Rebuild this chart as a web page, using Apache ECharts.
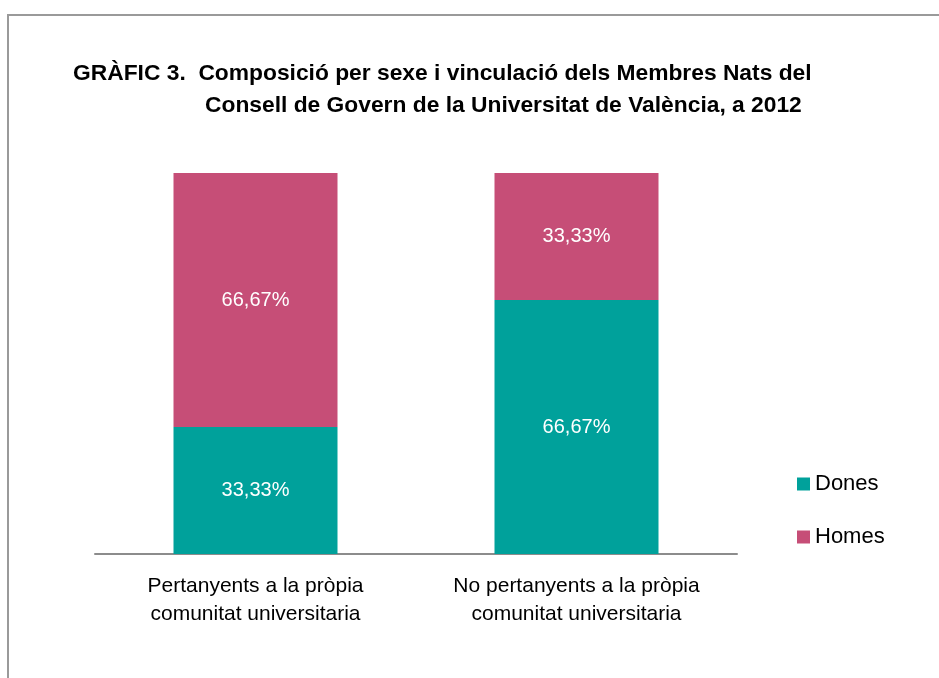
<!DOCTYPE html>
<html><head><meta charset="utf-8">
<script src="https://cdn.jsdelivr.net/npm/echarts@6/dist/echarts.min.js"></script>
<style>
html,body{margin:0;padding:0;background:#fff;}
#frame{position:absolute;left:7px;top:14px;width:960px;height:700px;border-top:2px solid #9a9a9a;border-left:2px solid #9a9a9a;}
#c{position:absolute;left:0;top:0;width:939px;height:678px;}
</style></head>
<body>
<div id="frame"></div>
<div id="c"></div>
<script>
const categories = ['Pertanyents a la pròpia\ncomunitat universitaria', 'No pertanyents a la pròpia\ncomunitat universitaria'];
const dones = [33.33, 66.67];
const homes = [66.67, 33.33];
const seriesNames = ['Dones', 'Homes'];
const titleLine1 = 'GRÀFIC 3.  Composició per sexe i vinculació dels Membres Nats del';
const titleLine2 = 'Consell de Govern de la Universitat de València, a 2012';

const font = '"Liberation Sans Narrow", "Liberation Sans", Arial, sans-serif';
const fmt = p => p.value.toFixed(2).replace('.', ',') + '%';
const chart = echarts.init(document.getElementById('c'));
chart.setOption({
  animation: false,
  backgroundColor: 'transparent',
  title: [
    {text: titleLine1, left: 73, top: 62, padding: 0, textStyle: {fontFamily: font, fontWeight: 'bold', fontSize: 22.8, color: '#000'}},
    {text: titleLine2, left: 205, top: 94, padding: 0, textStyle: {fontFamily: font, fontWeight: 'bold', fontSize: 22.8, color: '#000'}}
  ],
  legend: {
    orient: 'vertical', left: 792, top: 468, itemGap: 31, itemWidth: 13, itemHeight: 13,
    icon: 'rect',
    textStyle: {fontFamily: font, fontSize: 22, color: '#000'},
    data: seriesNames
  },
  grid: {left: 95, right: 202, top: 173, bottom: 124},
  xAxis: {
    type: 'category', data: categories,
    axisLine: {lineStyle: {color: '#8c8c8c', width: 2}},
    axisTick: {show: false},
    axisLabel: {fontFamily: font, fontSize: 21, color: '#000', lineHeight: 28, margin: 18}
  },
  yAxis: {type: 'value', min: 0, max: 100, show: false, splitLine: {show: false}},
  series: [
    {name: 'Dones', type: 'bar', stack: 't', data: dones, barWidth: 164, itemStyle: {color: '#00A19B'},
     label: {show: true, position: 'inside', formatter: fmt, color: '#fff', fontFamily: font, fontSize: 20}},
    {name: 'Homes', type: 'bar', stack: 't', data: homes, barWidth: 164, itemStyle: {color: '#C64E77'},
     label: {show: true, position: 'inside', formatter: fmt, color: '#fff', fontFamily: font, fontSize: 20}}
  ]
});
</script>
</body></html>
